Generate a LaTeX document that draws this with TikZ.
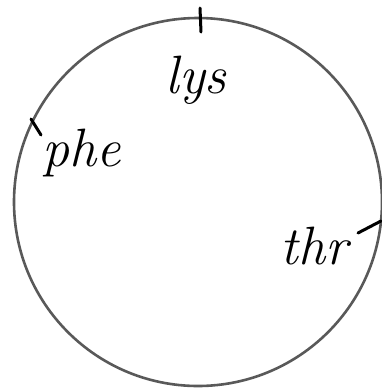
\documentclass[tikz,border=0pt]{standalone}
\begin{document}
\begin{tikzpicture}[x=1pt,y=-1pt,
  ring/.style={draw=black!65,line width=2.6pt},
  tick/.style={draw=black,line width=3pt,line cap=round},
  lab/.style={font=\fontsize{54}{54}\selectfont\itshape,inner sep=0pt}]
\useasboundingbox (0,0) rectangle (381,389);
\node[ring,circle,minimum size=368pt,inner sep=0pt] (ring) at (198,202) {};
\coordinate (t1a) at (200,8); \coordinate (t1b) at (201,32);
\coordinate (t2a) at (31,119); \coordinate (t2b) at (41,135);
\coordinate (t3a) at (358,233); \coordinate (t3b) at (381,221);
\draw[tick] (t1a) -- (t1b);
\draw[tick] (t2a) -- (t2b);
\draw[tick] (t3a) -- (t3b);
\node[lab] (lys) at (196,80) {lys};
\node[lab] (phe) at (82,153) {phe};
\node[lab] (thr) at (314,246) {thr};
\end{tikzpicture}
\end{document}
